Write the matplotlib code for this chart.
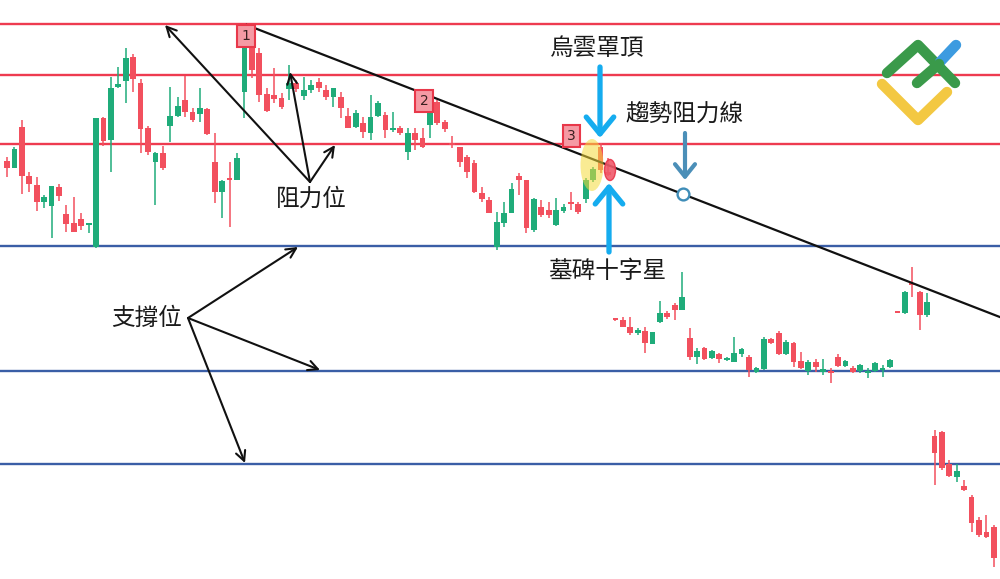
import numpy as np
import matplotlib.pyplot as plt
from matplotlib.patches import Ellipse

plt.rcParams['font.family'] = ['Noto Sans CJK TC', 'DejaVu Sans']

W, H = 1000, 579

# candle data (price units), one entry per bar
open_ = [418, 411, 452, 403, 394, 377, 373, 392, 365, 356,
         360, 354, 332, 461, 439, 492, 498, 522, 496, 451,
         417, 426, 453, 463, 479, 467, 465, 470, 417, 387,
         401, 399, 487, 534, 526, 485, 484, 481, 490, 496,
         483, 489, 497, 489, 482, 482, 463, 452, 456, 446,
         463, 464, 449, 451, 427, 446, 441, 454, 477, 457,
         436, 432, 422, 416, 386, 379, 332, 356, 366, 403,
         399, 349, 372, 369, 354, 368, 377, 375, 380, 399,
         432, 407, 260, 259, 252, 246, 248, 235, 257, 266,
         274, 269, 241, 222, 231, 221, 225, 219, 217, 225,
         222, 207, 210, 240, 246, 225, 236, 218, 208, 217,
         207, 207, 222, 213, 211, 208, 206, 208, 209, 212,
         267, 266, 296, 287, 264, 143, 147, 115, 102, 93,
         82, 59, 47, 52]
high = [422, 432, 459, 407, 402, 384, 393, 395, 374, 382,
        366, 356, 461, 462, 502, 512, 531, 525, 500, 453,
        427, 433, 492, 482, 503, 471, 491, 471, 446, 399,
        417, 426, 541, 541, 531, 491, 511, 486, 514, 499,
        502, 499, 501, 494, 491, 487, 471, 469, 462, 484,
        478, 467, 467, 453, 451, 451, 451, 482, 479, 459,
        443, 432, 424, 419, 392, 382, 367, 377, 396, 406,
        399, 381, 379, 377, 381, 375, 387, 377, 401, 412,
        436, 421, 261, 262, 262, 251, 252, 247, 278, 268,
        276, 307, 251, 231, 232, 229, 226, 222, 242, 231,
        224, 212, 242, 241, 248, 239, 237, 227, 219, 220,
        220, 211, 225, 219, 213, 215, 211, 217, 214, 220,
        267, 288, 312, 288, 286, 149, 148, 119, 115, 99,
        84, 62, 64, 54]
low = [402, 411, 385, 387, 368, 371, 341, 378, 347, 347,
       349, 346, 331, 433, 407, 491, 476, 487, 426, 424,
       374, 409, 437, 462, 462, 457, 457, 444, 376, 361,
       352, 399, 461, 501, 477, 467, 476, 470, 479, 487,
       479, 486, 487, 479, 472, 461, 451, 451, 441, 439,
       462, 441, 447, 444, 419, 429, 431, 441, 454, 447,
       431, 412, 401, 386, 377, 366, 329, 352, 366, 384,
       346, 347, 362, 361, 353, 366, 369, 365, 376, 397,
       406, 403, 258, 252, 244, 244, 226, 235, 256, 260,
       259, 269, 219, 215, 219, 220, 216, 218, 217, 222,
       202, 206, 209, 235, 224, 224, 212, 210, 204, 207,
       204, 196, 212, 212, 206, 206, 201, 207, 202, 211,
       266, 265, 282, 249, 262, 94, 109, 102, 97, 88,
       47, 42, 41, 12]
close = [411, 430, 403, 395, 377, 382, 393, 383, 355, 347,
         353, 356, 461, 438, 491, 495, 521, 500, 450, 427,
         426, 411, 463, 473, 467, 459, 471, 445, 387, 398,
         399, 421, 532, 509, 484, 468, 480, 472, 496, 490,
         489, 494, 491, 482, 491, 471, 451, 466, 447, 462,
         476, 449, 451, 446, 446, 439, 432, 469, 456, 450,
         434, 417, 407, 387, 380, 366, 357, 366, 390, 399,
         351, 380, 364, 364, 369, 372, 375, 367, 399, 410,
         409, 404, 259, 252, 246, 249, 236, 247, 266, 262,
         269, 282, 222, 228, 220, 228, 220, 221, 226, 230,
         209, 211, 240, 236, 225, 237, 217, 211, 217, 212,
         210, 206, 213, 218, 207, 214, 207, 216, 211, 219,
         266, 287, 294, 264, 277, 126, 111, 103, 108, 89,
         56, 44, 42, 21]

resistance = [555, 504, 435]
support = [333, 208, 115]

# trend line anchors (bar, price)
trend_bars = [32.3, 133.8]
trend_prices = [554, 262]
trend_touch_bar = 91.1

# numbered touches (bar, price)
touch_labels = ['1', '2', '3']
touch_bars = [32.2, 56.2, 76.1]
touch_prices = [543, 478, 443]

GREEN = '#1fac7a'
RED = '#f2505e'
RES_COLOR = '#ee3b50'
SUP_COLOR = '#3a5ea6'
CYAN = '#15acef'

bar0_px = 7
bar_step_px = 7.42


def pix(x, y):
    # pixel position -> data position (used for decorations only)
    return (x - bar0_px) / bar_step_px, H - y


fig = plt.figure(figsize=(W / 100, H / 100), dpi=100)
ax = fig.add_axes([0, 0, 1, 1])
ax.set_xlim(-bar0_px / bar_step_px, (W - bar0_px) / bar_step_px)
ax.set_ylim(0, H)
ax.axis('off')

for lvl in resistance:
    ax.axhline(lvl, color=RES_COLOR, lw=1.7, zorder=2)
for lvl in support:
    ax.axhline(lvl, color=SUP_COLOR, lw=1.7, zorder=2)

o = np.array(open_)
c = np.array(close)
x = np.arange(len(o))
cols = np.where(c >= o, GREEN, RED)
ax.vlines(x, low, high, colors=cols, lw=1.1, zorder=3)
ax.bar(x, np.maximum(np.abs(c - o), 2), bottom=np.minimum(o, c),
       width=0.78, color=cols, zorder=3)

# trend line
ax.plot(trend_bars, trend_prices, color='#111111', lw=1.6, zorder=4)
ty = np.interp(trend_touch_bar, trend_bars, trend_prices)
ax.plot([trend_touch_bar], [ty], 'o', ms=8.5, mfc='white', mec='#3f8db8',
        mew=1.7, zorder=6)

# highlights
ax.add_patch(Ellipse(pix(592, 165), 23 / bar_step_px, 52,
                     fc='#f5dc3a', ec='none', alpha=0.55, zorder=5))
ax.add_patch(Ellipse(pix(610, 170), 11 / bar_step_px, 21,
                     fc='#f05a6a', ec='#e8354a', lw=1, alpha=0.9, zorder=5))

for lab, b, p in zip(touch_labels, touch_bars, touch_prices):
    ax.text(b, p, lab, ha='center', va='center', fontsize=10, color='#3a2020',
            family=['DejaVu Sans'], zorder=7,
            bbox=dict(boxstyle='square,pad=0.3', fc='#f59aa4', ec='#e8384a', lw=1.5))


def fp(px, py):
    return px, H - py


txt = dict(xycoords='figure pixels', fontsize=17, color='#1a1a1a',
           ha='center', va='center')
ax.annotate('烏雲罩頂', fp(597, 48), **txt)
ax.annotate('趨勢阻力線', fp(685, 115), **txt)
ax.annotate('墓碑十字星', fp(607, 272), **txt)
ax.annotate('阻力位', fp(311, 199), **txt)
ax.annotate('支撐位', fp(147, 318), **txt)

black_arrow = dict(arrowstyle='->,head_length=0.7,head_width=0.35', lw=1.5,
                   color='#111111', shrinkA=0, shrinkB=0)
for head in [(165, 25), (290, 72), (335, 145)]:
    ax.annotate('', fp(*head), xytext=fp(310, 182), xycoords='figure pixels',
                textcoords='figure pixels', arrowprops=black_arrow)
for head in [(298, 247), (320, 370), (245, 463)]:
    ax.annotate('', fp(*head), xytext=fp(188, 318), xycoords='figure pixels',
                textcoords='figure pixels', arrowprops=black_arrow)

blue_arrow = dict(arrowstyle='->,head_length=0.55,head_width=0.45', lw=3.8,
                  color=CYAN, shrinkA=0, shrinkB=0, mutation_scale=22)
ax.annotate('', fp(600, 138), xytext=fp(600, 67), xycoords='figure pixels',
            textcoords='figure pixels', arrowprops=blue_arrow)
ax.annotate('', fp(609, 183), xytext=fp(609, 252), xycoords='figure pixels',
            textcoords='figure pixels', arrowprops=blue_arrow)
ax.annotate('', fp(685, 180), xytext=fp(685, 133), xycoords='figure pixels',
            textcoords='figure pixels',
            arrowprops=dict(arrowstyle='->,head_length=0.5,head_width=0.4', lw=3,
                            color='#4b8fb8', shrinkA=0, shrinkB=0, mutation_scale=18))

# logo
logo = [
    ([(882, 84), (918, 120), (947, 92)], '#f3c842'),
    ([(887, 73), (918, 45), (955, 83)], '#3a9a4a'),
    ([(940, 62), (956, 45)], '#3d9be0'),
    ([(917, 83), (939, 64)], '#3a9a4a'),
]
for pts, col in logo:
    xs, ys = zip(*[pix(px, py) for px, py in pts])
    ax.plot(xs, ys, color=col, lw=7.5, solid_capstyle='round',
            solid_joinstyle='round', zorder=8)

fig.savefig('out.png', dpi=100)
